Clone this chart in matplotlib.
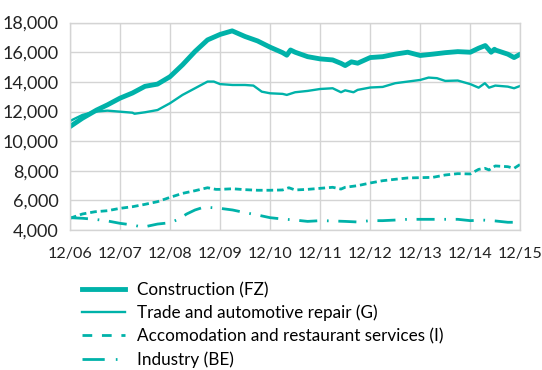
import matplotlib
matplotlib.use("Agg")
import matplotlib.pyplot as plt
from matplotlib.lines import Line2D

# Month offsets counted from December 2006
tick_labels = ["12/06", "12/07", "12/08", "12/09", "12/10",
               "12/11", "12/12", "12/13", "12/14", "12/15"]

construction_m = [0, 3, 6.4, 9, 12, 15, 18, 21, 24, 27, 30, 33, 36, 38.9, 42, 45, 48,
                  51, 52, 52.9, 54, 57, 60, 63, 65, 66, 67.5, 69, 72, 75, 78, 81, 84,
                  87, 90, 93, 96, 98, 99.6, 101, 101.8, 102, 105, 106.5, 108]
construction = [10980, 11550, 12100, 12450, 12900, 13250, 13700, 13850, 14350, 15150,
                16050, 16830, 17200, 17440, 17060, 16760, 16340, 15970, 15800, 16150,
                16000, 15700, 15550, 15480, 15250, 15100, 15350, 15260, 15640, 15700,
                15870, 16000, 15780, 15870, 15970, 16040, 16000, 16270, 16450, 16000,
                16200, 16150, 15870, 15640, 15870]

trade_m = [0, 3, 6, 9, 12, 15, 15.5, 18, 21, 24, 27, 30, 33, 34.5, 36, 39, 42, 44, 46,
           48, 51, 52, 54, 57, 60, 63, 65, 66, 68, 69, 72, 75, 78, 81, 84, 86, 88, 90,
           93, 96, 98, 99.5, 100.5, 102, 105, 106.5, 108]
trade = [11360, 11770, 11990, 12060, 11990, 11920, 11850, 11950, 12100, 12560, 13120,
         13570, 14020, 14020, 13850, 13790, 13790, 13750, 13340, 13230, 13190, 13120,
         13300, 13390, 13520, 13570, 13300, 13430, 13300, 13460, 13620, 13660, 13910,
         14020, 14130, 14290, 14250, 14065, 14090, 13850, 13610, 13910, 13610, 13750,
         13680, 13570, 13730]

accom_m = [0, 3, 6, 9, 12, 15, 18, 21, 24, 27, 30, 33, 35, 36, 39, 42, 45, 48, 51, 52.5,
           54, 57, 60, 63, 65, 66, 69, 72, 75, 78, 81, 84, 87, 90, 93, 96, 98, 99.5,
           100.5, 102, 105, 106.5, 108]
accom = [4800, 5090, 5240, 5310, 5470, 5580, 5740, 5920, 6210, 6480, 6660, 6860, 6750,
         6750, 6790, 6730, 6690, 6690, 6710, 6860, 6710, 6750, 6820, 6890, 6770, 6890,
         7000, 7180, 7335, 7430, 7520, 7540, 7560, 7720, 7810, 7790, 8100, 8170, 8060,
         8330, 8280, 8170, 8440]

industry_m = [0, 3, 6, 9, 12, 15, 17, 18, 20, 21, 24, 26, 28, 30, 32, 33, 36, 39, 42, 45,
              48, 51, 54, 57, 60, 63, 66, 69, 72, 75, 78, 81, 84, 87, 90, 93, 96, 99,
              102, 105, 108]
industry = [4840, 4800, 4730, 4620, 4460, 4350, 4230, 4230, 4350, 4410, 4500, 4730, 5090,
            5360, 5540, 5540, 5470, 5360, 5180, 5020, 4840, 4750, 4680, 4590, 4640, 4620,
            4590, 4550, 4640, 4640, 4680, 4730, 4730, 4730, 4730, 4730, 4640, 4680, 4620,
            4530, 4530]

labels = ["Construction (FZ)", "Trade and automotive repair (G)",
          "Accomodation and restaurant services (I)", "Industry (BE)"]

teal = "#00b2a9"
grid_c = "#d4d4d4"

plt.rcParams["font.family"] = ["Lato", "DejaVu Sans"]

fig = plt.figure(figsize=(5.42, 3.70), dpi=100)
ax = fig.add_axes([0.129, 0.378, 0.831, 0.561])

ax.plot(construction_m, construction, color=teal, lw=3.5, solid_capstyle="round",
        solid_joinstyle="round")
ax.plot(trade_m, trade, color=teal, lw=1.7, solid_joinstyle="round")
ax.plot(accom_m, accom, color=teal, lw=2.0, dashes=(2.4, 1.4))
ax.plot(industry_m, industry, color=teal, lw=2.0, dashes=(6.5, 3.5, 0.6, 3.5))

ax.set_xlim(0, 108)
ax.set_ylim(4000, 18000)
ax.set_xticks(range(0, 109, 12))
ax.set_xticklabels(tick_labels)
ax.set_yticks(range(4000, 18001, 2000))
ax.set_yticklabels([f"{v:,}" for v in range(4000, 18001, 2000)])
ax.tick_params(length=0, labelsize=13, colors="#222222", pad=8)
ax.tick_params(axis="x", pad=12, labelsize=11.6)
ax.grid(True, color=grid_c, lw=1.0)
ax.set_axisbelow(True)
for s in ax.spines.values():
    s.set_color(grid_c)
    s.set_linewidth(1.0)

handles = [
    Line2D([], [], color=teal, lw=3.5),
    Line2D([], [], color=teal, lw=1.7),
    Line2D([], [], color=teal, lw=2.0, dashes=(3.5, 3.5)),
    Line2D([], [], color=teal, lw=2.0, dashes=(8, 4, 0.6, 4, 0.6, 4)),
]
fig.legend(handles, labels, loc="upper left", bbox_to_anchor=(0.151, 0.238),
           frameon=False, fontsize=12.3, handlelength=2.55, handletextpad=0.65,
           labelspacing=0.4, borderaxespad=0, borderpad=0)

fig.savefig("out.png", dpi=100)
